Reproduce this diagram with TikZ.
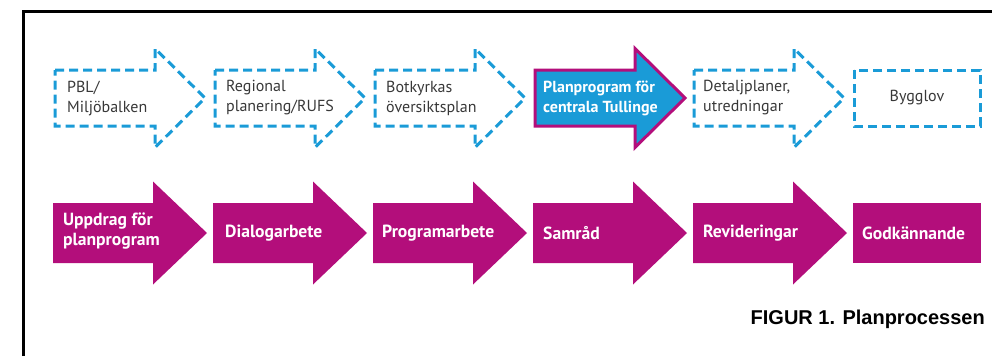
\documentclass[tikz,border=0pt]{standalone}
\usepackage{fontspec}
\setmainfont{PT Sans}
\newfontfamily\capfont{Liberation Sans}
\definecolor{pblue}{HTML}{1A9BD7}
\definecolor{pmag}{HTML}{B30E7B}
\definecolor{ptext}{HTML}{383838}
\newcommand\ArrTop[3]{%
  \path[#3] (#1,#2-28) -- (#1+100,#2-28) -- (#1+100,#2-49.5) -- (#1+150,#2)
    -- (#1+100,#2+49.5) -- (#1+100,#2+28) -- (#1,#2+28) -- cycle;}
\newcommand\ArrBot[3]{%
  \path[#3] (#1,#2-30) -- (#1+100,#2-30) -- (#1+100,#2-51.5) -- (#1+154,#2)
    -- (#1+100,#2+51.5) -- (#1+100,#2+30) -- (#1,#2+30) -- cycle;}
\begin{document}
\begin{tikzpicture}[x=1pt,y=-1pt,
  dashshape/.style={draw=pblue, line width=3pt, dash pattern=on 9pt off 5pt, line join=miter},
  solidshape/.style={fill=pblue, draw=pmag, line width=3pt, line join=miter},
  magshape/.style={fill=pmag},
  toptext/.style={font=\fontsize{16}{20}\selectfont, text=ptext, align=left, inner sep=0pt},
  bluetext/.style={font=\bfseries\fontsize{16}{20}\selectfont, text=white, align=left, inner sep=0pt},
  bottext/.style={font=\bfseries\fontsize{17.6}{19.5}\selectfont, text=white, align=left, inner sep=0pt},
  captext/.style={font=\capfont\bfseries\fontsize{20}{24}\selectfont, text=black, inner sep=0pt}]
\useasboundingbox (0,0) rectangle (992,356);
% frame
\draw[line width=3pt] (23.5,356) -- (23.5,11) -- (992,11);
% top row
\ArrTop{55}{98}{dashshape}
\ArrTop{215}{98}{dashshape}
\ArrTop{375}{98}{dashshape}
\ArrTop{535}{98}{solidshape}
\ArrTop{694}{98}{dashshape}
\path[dashshape] (854,70) rectangle (980,126);
\node[toptext, anchor=west] (t1) at (67,98) {PBL/\\Miljöbalken};
\node[toptext, anchor=west] (t2) at (226,98) {Regional\\planering/RUFS};
\node[toptext, anchor=west] (t3) at (386,98) {Botkyrkas\\översiktsplan};
\node[bluetext, anchor=west] (t4) at (543,98) {Planprogram för\\centrala Tullinge};
\node[toptext, anchor=west] (t5) at (703,98) {Detaljplaner,\\utredningar};
\node[toptext] (t6) at (917,98) {Bygglov};
% bottom row
\ArrBot{53}{233}{magshape}
\ArrBot{213}{233}{magshape}
\ArrBot{373}{233}{magshape}
\ArrBot{533}{233}{magshape}
\ArrBot{693}{233}{magshape}
\path[magshape] (853,203) rectangle (981,263);
\node[bottext, anchor=west] (b1) at (63,231) {Uppdrag för\\planprogram};
\node[bottext, anchor=west] (b2) at (225,233) {Dialogarbete};
\node[bottext, anchor=west] (b3) at (382,233) {Programarbete};
\node[bottext, anchor=west] (b4) at (543,233) {Samråd};
\node[bottext, anchor=west] (b5) at (703,233) {Revideringar};
\node[bottext, anchor=west] (b6) at (862,233) {Godkännande};
% caption
\node[captext, anchor=base east] (cap) at (985,324) {FIGUR 1. Planprocessen};
\end{tikzpicture}
\end{document}
